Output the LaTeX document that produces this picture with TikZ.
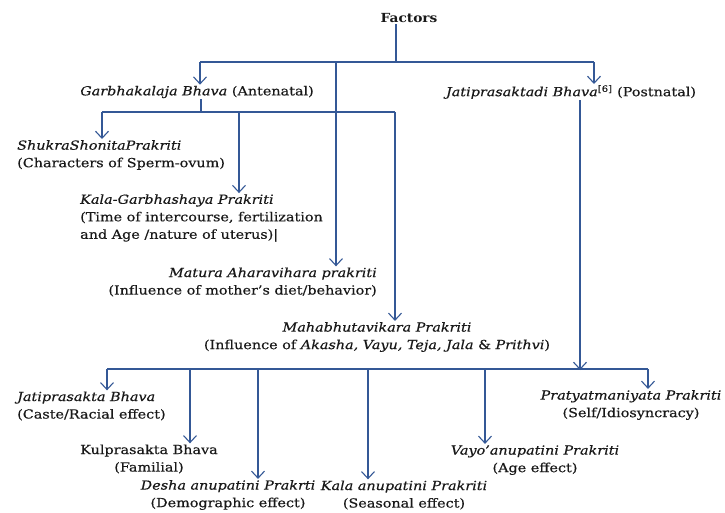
\documentclass[tikz,border=0pt]{standalone}
\usepackage{fontspec}
\setmainfont{DejaVu Serif}[FakeStretch=1.15,FakeBold=0.4]
\newfontfamily\boldfam{DejaVu Serif Bold}[FakeStretch=1.1]
\usetikzlibrary{arrows.meta}
\definecolor{linec}{RGB}{52,88,150}
\definecolor{txt}{RGB}{25,25,25}
\tikzset{
  lbl/.style={inner sep=1pt, text=txt, font=\fontsize{12.5}{17.5}\selectfont},
  conn/.style={draw=linec, line width=1.4pt},
  arr/.style={conn, -{Straight Barb[length=7pt,width=13pt,line width=1.1pt]}}
}
\begin{document}
\begin{tikzpicture}[x=1pt,y=-1pt]
\useasboundingbox[fill=white] (0,0) rectangle (725,512);
% nodes
\node[lbl, font=\boldfam\fontsize{12.5}{15}\selectfont] (factors) at (409,18) {Factors};
\node[lbl] (garbha) at (197,92) {\textit{Garbhakalaja Bhava} (Antenatal)};
\node[lbl] (jati) at (571,92) {\textit{Jatiprasaktadi Bhava}\textsuperscript{[6]} (Postnatal)};
\node[lbl, align=left, anchor=west] (shukra) at (16,155) {\textit{ShukraShonitaPrakriti}\\(Characters of Sperm-ovum)};
\node[lbl, align=left, anchor=west] (kalag) at (79,218) {\textit{Kala-Garbhashaya Prakriti}\\(Time of intercourse, fertilization\\and Age /nature of uterus)|};
\node[lbl, align=right, anchor=east] (matura) at (378,282) {\textit{Matura Aharavihara prakriti}\\(Influence of mother’s diet/behavior)};
\node[lbl, align=center] (maha) at (377,337) {\textit{Mahabhutavikara Prakriti}\\(Influence of \textit{Akasha, Vayu, Teja, Jala} \& \textit{Prithvi})};
\node[lbl, align=left, anchor=west] (jatip) at (16,406) {\textit{Jatiprasakta Bhava}\\(Caste/Racial effect)};
\node[lbl, align=center] (kul) at (149,459) {Kulprasakta Bhava\\(Familial)};
\node[lbl, align=center] (desha) at (228,495) {\textit{Desha anupatini Prakrti}\\(Demographic effect)};
\node[lbl, align=center] (kala) at (404,495) {\textit{Kala anupatini Prakriti}\\(Seasonal effect)};
\node[lbl, align=center] (vayo) at (535,460) {\textit{Vayo’anupatini Prakriti}\\(Age effect)};
\node[lbl, align=center] (praty) at (631,405) {\textit{Pratyatmaniyata Prakriti}\\(Self/Idiosyncracy)};
% junction coordinates
\coordinate (fj) at (396,62);
\coordinate (gl) at (200,62);
\coordinate (gr) at (594,62);
\coordinate (mid) at (336,62);
\coordinate (gj) at (201,112);
\coordinate (al) at (102,112);
\coordinate (ak) at (239,112);
\coordinate (ar) at (395,112);
\coordinate (jd) at (580,369);
\coordinate (bl) at (107,369);
\coordinate (br) at (648,369);
\coordinate (b2) at (190,369);
\coordinate (b3) at (258,369);
\coordinate (b4) at (368,369);
\coordinate (b5) at (485,369);
% connectors
\draw[conn] (fj |- factors.south) -- (fj);
\draw[conn] (gl) -- (gr);
\draw[arr] (gl) -- (gl |- garbha.north);
\draw[arr] (gr) -- (gr |- jati.north);
\draw[arr] (mid) -- (mid |- matura.north);
\draw[conn] (gj |- garbha.south) -- (gj);
\draw[conn] (al) -- (ar);
\draw[arr] (al) -- (al |- shukra.north);
\draw[arr] (ak) -- (ak |- kalag.north);
\draw[arr] (ar) -- (ar |- maha.north);
\draw[arr] (jd |- jati.south) -- ([yshift=-1pt]jd);
\draw[conn] (bl) -- (br);
\draw[arr] (bl) -- (bl |- jatip.north);
\draw[arr] (b2) -- (b2 |- kul.north);
\draw[arr] (b3) -- (b3 |- desha.north);
\draw[arr] (b4) -- (b4 |- kala.north);
\draw[arr] (b5) -- (b5 |- vayo.north);
\draw[arr] (br) -- (br |- praty.north);
\end{tikzpicture}
\end{document}
